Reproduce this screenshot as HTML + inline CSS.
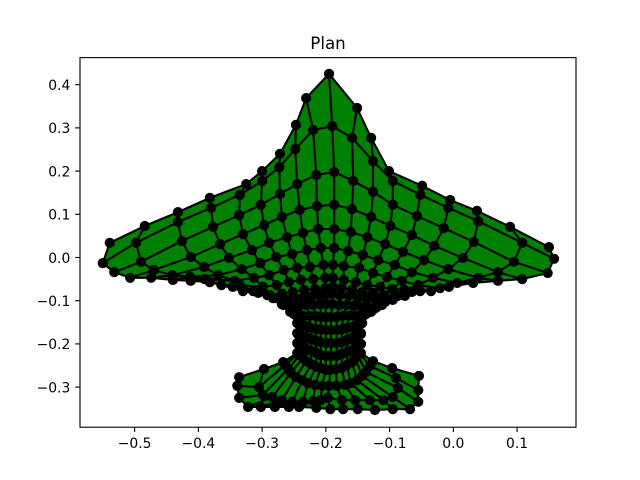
<!DOCTYPE html>
<html>
<head>
<meta charset="utf-8">
<title>Plan</title>
<style>
html,body{margin:0;padding:0;background:#fff;}
svg{display:block;}
text{font-family:"DejaVu Sans","Liberation Sans",sans-serif;fill:#000;}
</style>
</head>
<body>
<svg id="chart" xmlns="http://www.w3.org/2000/svg" width="640" height="480" viewBox="0 0 640 480">
<rect x="0" y="0" width="640" height="480" fill="#fff"/>
<g id="mesh-fill"></g>
<g id="mesh-lines"></g>
<g id="mesh-nodes"></g>
<rect x="80" y="57.6" width="496" height="369.6" fill="none" stroke="#000" stroke-width="1.1"/>
<g id="x-axis"></g>
<g id="y-axis"></g>
<text x="328" y="49" font-size="16.67" text-anchor="middle">Plan</text>
</svg>
<script>
const xTicks = [-0.5, -0.4, -0.3, -0.2, -0.1, 0.0, 0.1];
const yTicks = [-0.3, -0.2, -0.1, 0.0, 0.1, 0.2, 0.3, 0.4];
const xDomain = [-0.5857, 0.1924];
const yDomain = [-0.3928, 0.4627];

const meshX = [
[-0.539,-0.484,-0.432,-0.382,-0.325,-0.300,-0.272,-0.247,-0.231,-0.195,-0.151,-0.129,-0.101,-0.049,-0.005,0.037,0.089,0.150],
[-0.550,-0.498,-0.432,-0.380,-0.335,-0.300,-0.273,-0.248,-0.220,-0.190,-0.159,-0.126,-0.095,-0.052,-0.008,0.039,0.108,0.158],
[-0.532,-0.490,-0.426,-0.377,-0.336,-0.302,-0.272,-0.245,-0.215,-0.187,-0.157,-0.126,-0.095,-0.057,-0.015,0.032,0.095,0.148],
[-0.507,-0.470,-0.412,-0.366,-0.330,-0.297,-0.269,-0.241,-0.214,-0.187,-0.159,-0.129,-0.099,-0.065,-0.030,0.015,0.070,0.108],
[-0.474,-0.441,-0.391,-0.352,-0.316,-0.289,-0.261,-0.236,-0.212,-0.187,-0.161,-0.135,-0.107,-0.079,-0.046,-0.008,0.039,0.070],
[-0.440,-0.413,-0.369,-0.332,-0.303,-0.278,-0.253,-0.230,-0.208,-0.187,-0.165,-0.142,-0.118,-0.092,-0.065,-0.032,0.006,0.031],
[-0.412,-0.390,-0.343,-0.313,-0.289,-0.266,-0.245,-0.225,-0.204,-0.189,-0.172,-0.148,-0.126,-0.104,-0.081,-0.055,-0.021,-0.007],
[-0.382,-0.364,-0.335,-0.299,-0.277,-0.258,-0.239,-0.220,-0.201,-0.189,-0.172,-0.153,-0.135,-0.115,-0.096,-0.077,-0.052,-0.035],
[-0.346,-0.330,-0.306,-0.288,-0.269,-0.252,-0.234,-0.217,-0.201,-0.189,-0.175,-0.159,-0.143,-0.126,-0.109,-0.092,-0.076,-0.065],
[-0.314,-0.292,-0.278,-0.264,-0.250,-0.236,-0.223,-0.211,-0.200,-0.190,-0.178,-0.164,-0.150,-0.135,-0.121,-0.107,-0.095,-0.087],
[-0.283,-0.269,-0.259,-0.252,-0.242,-0.231,-0.220,-0.209,-0.200,-0.190,-0.179,-0.167,-0.156,-0.143,-0.132,-0.120,-0.112,-0.107],
[-0.267,-0.256,-0.250,-0.244,-0.236,-0.226,-0.217,-0.208,-0.200,-0.192,-0.183,-0.173,-0.164,-0.154,-0.145,-0.137,-0.129,-0.124],
[-0.245,-0.244,-0.241,-0.236,-0.230,-0.223,-0.215,-0.208,-0.200,-0.192,-0.183,-0.175,-0.167,-0.159,-0.153,-0.148,-0.145,-0.143],
[-0.245,-0.244,-0.241,-0.236,-0.230,-0.223,-0.215,-0.208,-0.200,-0.192,-0.183,-0.175,-0.167,-0.159,-0.153,-0.148,-0.145,-0.145],
[-0.245,-0.244,-0.241,-0.236,-0.230,-0.223,-0.215,-0.208,-0.200,-0.192,-0.183,-0.175,-0.167,-0.159,-0.153,-0.148,-0.145,-0.145],
[-0.245,-0.244,-0.241,-0.236,-0.231,-0.223,-0.215,-0.208,-0.200,-0.193,-0.184,-0.175,-0.167,-0.159,-0.154,-0.150,-0.146,-0.145],
[-0.267,-0.264,-0.259,-0.255,-0.247,-0.237,-0.228,-0.217,-0.206,-0.195,-0.183,-0.170,-0.161,-0.151,-0.143,-0.137,-0.131,-0.126],
[-0.297,-0.305,-0.299,-0.284,-0.269,-0.253,-0.236,-0.220,-0.208,-0.197,-0.175,-0.154,-0.131,-0.110,-0.095,-0.087,-0.090,-0.096],
[-0.336,-0.339,-0.336,-0.322,-0.302,-0.280,-0.258,-0.242,-0.215,-0.193,-0.173,-0.150,-0.123,-0.095,-0.068,-0.055,-0.055,-0.054]
];

const meshY = [
[0.034,0.073,0.105,0.138,0.170,0.200,0.240,0.307,0.369,0.425,0.346,0.277,0.200,0.166,0.133,0.108,0.071,0.024],
[-0.013,0.034,0.082,0.115,0.145,0.177,0.209,0.251,0.295,0.304,0.277,0.223,0.177,0.145,0.115,0.084,0.034,-0.003],
[-0.034,-0.010,0.038,0.071,0.098,0.122,0.147,0.170,0.191,0.198,0.177,0.152,0.122,0.096,0.068,0.036,-0.010,-0.036],
[-0.047,-0.029,0.001,0.031,0.054,0.075,0.094,0.110,0.119,0.122,0.112,0.094,0.073,0.052,0.027,-0.001,-0.034,-0.050],
[-0.047,-0.041,-0.022,-0.001,0.017,0.034,0.047,0.057,0.066,0.066,0.059,0.047,0.031,0.013,-0.006,-0.027,-0.047,-0.054],
[-0.052,-0.045,-0.041,-0.027,-0.013,0.001,0.008,0.017,0.022,0.022,0.015,0.006,-0.006,-0.017,-0.034,-0.047,-0.059,-0.059],
[-0.054,-0.050,-0.054,-0.047,-0.041,-0.029,-0.024,-0.022,-0.017,-0.017,-0.020,-0.024,-0.036,-0.045,-0.054,-0.064,-0.071,-0.068],
[-0.057,-0.064,-0.064,-0.068,-0.064,-0.057,-0.052,-0.050,-0.047,-0.047,-0.052,-0.057,-0.064,-0.068,-0.073,-0.075,-0.078,-0.078],
[-0.068,-0.078,-0.082,-0.087,-0.084,-0.080,-0.075,-0.073,-0.071,-0.068,-0.071,-0.075,-0.080,-0.082,-0.087,-0.089,-0.089,-0.080],
[-0.078,-0.087,-0.094,-0.098,-0.096,-0.094,-0.091,-0.087,-0.087,-0.084,-0.087,-0.089,-0.094,-0.096,-0.098,-0.098,-0.098,-0.089],
[-0.094,-0.108,-0.112,-0.115,-0.112,-0.110,-0.110,-0.108,-0.108,-0.108,-0.110,-0.110,-0.112,-0.115,-0.117,-0.115,-0.110,-0.103],
[-0.110,-0.126,-0.131,-0.133,-0.135,-0.135,-0.135,-0.138,-0.138,-0.138,-0.138,-0.135,-0.135,-0.135,-0.133,-0.131,-0.126,-0.119],
[-0.152,-0.152,-0.154,-0.156,-0.159,-0.163,-0.166,-0.166,-0.168,-0.168,-0.168,-0.166,-0.163,-0.161,-0.156,-0.154,-0.152,-0.152],
[-0.175,-0.177,-0.179,-0.182,-0.186,-0.189,-0.193,-0.196,-0.198,-0.198,-0.198,-0.196,-0.191,-0.186,-0.182,-0.179,-0.177,-0.175],
[-0.198,-0.200,-0.203,-0.207,-0.212,-0.216,-0.221,-0.226,-0.228,-0.228,-0.228,-0.223,-0.219,-0.214,-0.207,-0.203,-0.200,-0.200],
[-0.221,-0.223,-0.226,-0.233,-0.240,-0.247,-0.253,-0.256,-0.260,-0.260,-0.258,-0.256,-0.249,-0.242,-0.233,-0.226,-0.223,-0.221],
[-0.242,-0.249,-0.258,-0.267,-0.277,-0.284,-0.291,-0.295,-0.297,-0.297,-0.297,-0.295,-0.291,-0.284,-0.274,-0.265,-0.251,-0.240],
[-0.258,-0.300,-0.318,-0.323,-0.330,-0.334,-0.334,-0.332,-0.330,-0.325,-0.330,-0.330,-0.330,-0.330,-0.323,-0.302,-0.279,-0.256],
[-0.277,-0.297,-0.325,-0.346,-0.346,-0.346,-0.346,-0.346,-0.348,-0.351,-0.351,-0.351,-0.353,-0.351,-0.351,-0.334,-0.307,-0.274]
];

const SVGNS = 'http://www.w3.org/2000/svg';
function xScale(v){ return 80 + (v - xDomain[0]) / (xDomain[1] - xDomain[0]) * 496; }
function yScale(v){ return 427.2 - (v - yDomain[0]) / (yDomain[1] - yDomain[0]) * 369.6; }
function fmt(v){ return (v < 0 ? '\u2212' : '') + Math.abs(v).toFixed(1); }
function pt(r, c){ return xScale(meshX[r][c]).toFixed(2) + ',' + yScale(meshY[r][c]).toFixed(2); }

const fillGroup = document.getElementById('mesh-fill');
const lineGroup = document.getElementById('mesh-lines');
const nodeGroup = document.getElementById('mesh-nodes');
const xAxis = document.getElementById('x-axis');
const yAxis = document.getElementById('y-axis');
const rowCount = meshX.length;
const colCount = meshX[0].length;

for (let r = 0; r < rowCount - 1; r++) {
  for (let c = 0; c < colCount - 1; c++) {
    const q = document.createElementNS(SVGNS, 'polygon');
    
    
    q.setAttribute('points', [pt(r, c), pt(r, c + 1), pt(r + 1, c + 1), pt(r + 1, c)].join(' '));
    q.setAttribute('fill', '#008000');
    q.setAttribute('stroke', '#008000');
    q.setAttribute('stroke-width', '0.6');
    fillGroup.appendChild(q);
  }
}

for (let r = 0; r < rowCount; r++) {
  const pts = [];
  for (let c = 0; c < colCount; c++) pts.push(pt(r, c));
  const l = document.createElementNS(SVGNS, 'polyline');
  
  
  l.setAttribute('points', pts.join(' '));
  l.setAttribute('fill', 'none');
  l.setAttribute('stroke', '#000');
  l.setAttribute('stroke-width', '2.1');
  lineGroup.appendChild(l);
}

for (let c = 0; c < colCount; c++) {
  const pts = [];
  for (let r = 0; r < rowCount; r++) pts.push(pt(r, c));
  const l = document.createElementNS(SVGNS, 'polyline');
  
  
  l.setAttribute('points', pts.join(' '));
  l.setAttribute('fill', 'none');
  l.setAttribute('stroke', '#000');
  l.setAttribute('stroke-width', '2.1');
  lineGroup.appendChild(l);
}

for (let r = 0; r < rowCount; r++) {
  for (let c = 0; c < colCount; c++) {
    const n = document.createElementNS(SVGNS, 'circle');
    
    
    n.setAttribute('cx', xScale(meshX[r][c]).toFixed(2));
    n.setAttribute('cy', yScale(meshY[r][c]).toFixed(2));
    n.setAttribute('r', '5.1');
    n.setAttribute('fill', '#000');
    nodeGroup.appendChild(n);
  }
}

xTicks.forEach(function (v) {
  const px = xScale(v);
  const t = document.createElementNS(SVGNS, 'line');
  
  
  t.setAttribute('x1', px);
  t.setAttribute('x2', px);
  t.setAttribute('y1', 427.2);
  t.setAttribute('y2', 432.06);
  t.setAttribute('stroke', '#000');
  t.setAttribute('stroke-width', '1.1');
  xAxis.appendChild(t);
  const lab = document.createElementNS(SVGNS, 'text');
  
  
  lab.setAttribute('x', px);
  lab.setAttribute('y', 448);
  lab.setAttribute('font-size', '13.9');
  lab.setAttribute('text-anchor', 'middle');
  lab.textContent = fmt(v);
  xAxis.appendChild(lab);
});

yTicks.forEach(function (v) {
  const py = yScale(v);
  const t = document.createElementNS(SVGNS, 'line');
  
  
  t.setAttribute('x1', 75.14);
  t.setAttribute('x2', 80);
  t.setAttribute('y1', py);
  t.setAttribute('y2', py);
  t.setAttribute('stroke', '#000');
  t.setAttribute('stroke-width', '1.1');
  yAxis.appendChild(t);
  const lab = document.createElementNS(SVGNS, 'text');
  
  
  lab.setAttribute('x', 70.3);
  lab.setAttribute('y', py + 5.3);
  lab.setAttribute('font-size', '13.9');
  lab.setAttribute('text-anchor', 'end');
  lab.textContent = fmt(v);
  yAxis.appendChild(lab);
});
</script>
</body>
</html>
